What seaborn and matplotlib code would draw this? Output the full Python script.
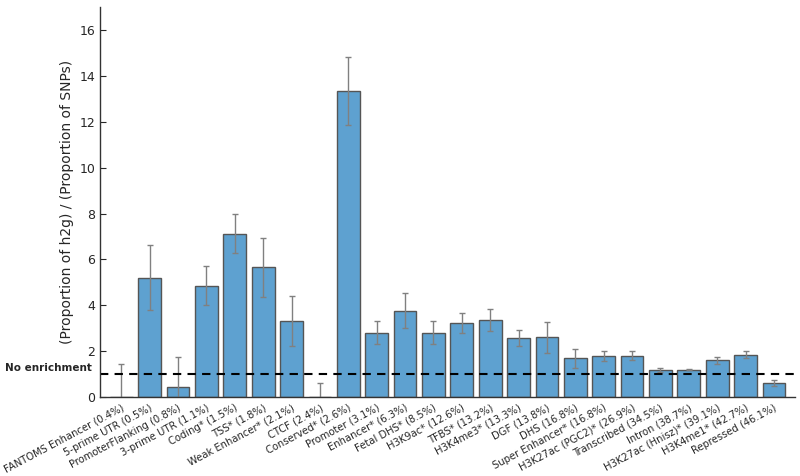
"""
    Enrichment of h2g per functional annotation category
"""
import numpy as np
import pandas as pd
import seaborn as sns
import matplotlib
matplotlib.use("Agg")
import matplotlib.pyplot as plt

categories = [
    "FANTOMS Enhancer (0.4%)", "5-prime UTR (0.5%)", "PromoterFlanking (0.8%)",
    "3-prime UTR (1.1%)", "Coding* (1.5%)", "TSS* (1.8%)", "Weak Enhancer* (2.1%)",
    "CTCF (2.4%)", "Conserved* (2.6%)", "Promoter (3.1%)", "Enhancer* (6.3%)",
    "Fetal DHS* (8.5%)", "H3K9ac* (12.6%)", "TFBS* (13.2%)", "H3K4me3* (13.3%)",
    "DGF (13.8%)", "DHS (16.8%)", "Super Enhancer* (16.8%)", "H3K27ac (PGC2)* (26.9%)",
    "Transcribed (34.5%)", "Intron (38.7%)", "H3K27ac (Hnisz)* (39.1%)",
    "H3K4me1* (42.7%)", "Repressed (46.1%)",
]
enrichment = [0.0, 5.21, 0.42, 4.86, 7.11, 5.66, 3.31, 0.0, 13.33, 2.80, 3.76, 2.80,
              3.22, 3.34, 2.57, 2.60, 1.68, 1.79, 1.80, 1.18, 1.19, 1.60, 1.84, 0.60]
std_err = [1.42, 1.40, 1.33, 0.87, 0.85, 1.29, 1.09, 0.62, 1.48, 0.50, 0.77, 0.50,
           0.45, 0.48, 0.35, 0.68, 0.41, 0.21, 0.20, 0.10, 0.03, 0.14, 0.16, 0.14]

df = pd.DataFrame({"Category": categories, "Enrichment": enrichment, "SE": std_err})

sns.set_style("white")
plt.rcParams["font.family"] = ["DejaVu Sans"]

fig = plt.figure(figsize=(8, 4.76), dpi=100)
ax = fig.add_axes([0.125, 0.166, 0.869, 0.819])

sns.barplot(data=df, x="Category", y="Enrichment", color="#5ea1d0", saturation=1,
            edgecolor="#555555", linewidth=1, width=0.8, errorbar=None, ax=ax)
ax.errorbar(np.arange(len(categories)), df["Enrichment"], yerr=df["SE"], fmt="none",
            ecolor="#808080", elinewidth=1, capsize=2.5, capthick=1)

# reference line at enrichment = 1
ax.axhline(1, color="black", linestyle="--", linewidth=1.5, dashes=(4, 3))
ax.text(-0.011, 1.05, "No enrichment", transform=ax.get_yaxis_transform(),
        ha="right", va="bottom", fontsize=7.5, fontweight="bold")

ax.set_xlim(-0.75, len(categories) - 0.25)
ax.set_ylim(0, 17)
ax.set_yticks(range(0, 17, 2))
ax.set_xlabel("")
ax.set_ylabel("(Proportion of h2g) / (Proportion of SNPs)", fontsize=10)
ax.set_xticks(range(len(categories)))
ax.set_xticklabels(categories, rotation=28, ha="right", rotation_mode="anchor", fontsize=7.2)
ax.tick_params(axis="y", direction="in", length=4, labelsize=9, left=True)
ax.tick_params(axis="x", length=0, pad=4)
sns.despine(ax=ax)
for side in ["left", "bottom"]:
    ax.spines[side].set_color("#333333")
    ax.spines[side].set_linewidth(1)

fig.savefig("out.png", dpi=100)
